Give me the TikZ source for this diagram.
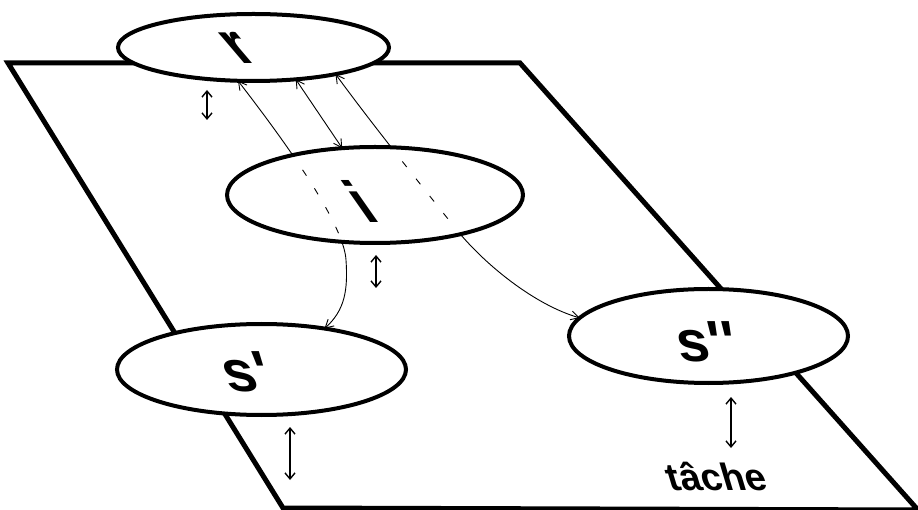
\documentclass[tikz,border=0pt]{standalone}
\usepackage{fontspec}
\setmainfont{Liberation Sans}[Ligatures=TeXOff]
\newfontfamily\slantR{Liberation Sans}[UprightFont=* Bold, FakeSlant=-0.85, Ligatures=TeXOff]
\newfontfamily\slantI{Liberation Sans}[UprightFont=* Bold, FakeSlant=-0.7, Ligatures=TeXOff]
\newfontfamily\slantS{Liberation Sans}[UprightFont=* Bold, FakeSlant=-0.35, Ligatures=TeXOff]
\newfontfamily\slantT{Liberation Sans}[UprightFont=* Bold, FakeSlant=-0.2, Ligatures=TeXOff]
\newfontfamily\slantW{Liberation Sans}[UprightFont=* Bold, FakeSlant=-0.3, Ligatures=TeXOff]
\usetikzlibrary{arrows.meta,shapes.geometric}
\pgfdeclarelayer{bg}\pgfdeclarelayer{mid}\pgfdeclarelayer{fg}
\pgfsetlayers{bg,mid,main,fg}
\tikzset{
  plane/.style={line width=5pt, line join=miter},
  blob/.style={ellipse, draw, fill=white, line width=4pt, inner sep=0pt, outer sep=0pt},
  lab/.style={inner sep=0pt},
  link/.style={line width=0.9pt, {Straight Barb[length=8pt,width=9pt]}-{Straight Barb[length=8pt,width=9pt]}},
  hid/.style={line width=0.9pt, dash pattern=on 7pt off 15pt},
  dbl/.style={line width=1.4pt, {Straight Barb[length=6pt,width=10pt]}-{Straight Barb[length=6pt,width=10pt]}},
}
\begin{document}
\begin{tikzpicture}[x=1pt,y=-1pt]
\useasboundingbox (0,0) rectangle (918,510);
% ellipses
\node[blob, minimum width=271pt, minimum height=67pt] (r) at (253.5,47.5) {};
\node[blob, minimum width=296pt, minimum height=96pt] (i) at (375,195) {};
\node[blob, minimum width=289pt, minimum height=91pt] (s1) at (261.5,369.5) {};
\node[blob, minimum width=279pt, minimum height=94pt] (s2) at (708.5,336) {};
% labels
\node[lab, font=\slantR\fontsize{58}{60}\selectfont] (rl) at (252,48) {r};
\node[lab, font=\slantI\fontsize{58}{60}\selectfont] (il) at (375,201) {i};
\node[lab, font=\slantS\fontsize{58}{60}\selectfont] (s1l) at (253,372) {s'};
\node[lab, font=\slantT\fontsize{58}{60}\selectfont] (s2l) at (710,342) {s''};
\node[lab, font=\slantW\fontsize{38}{40}\selectfont] (t) at (720,476) {tâche};
% plane
\begin{pgfonlayer}{bg}
\coordinate (p1) at (8,63);
\coordinate (p2) at (520,63);
\coordinate (p3) at (918,510);
\coordinate (p4) at (283,508);
\draw[plane] (p1) -- (p2) -- (p3) -- (p4) -- cycle;
\end{pgfonlayer}
% connectors
\begin{pgfonlayer}{mid}
\draw[link] (r.245) .. controls (290,148) and (344,225) .. (346,260) .. controls (348,290) and (345,310) .. (s1.33);
\draw[link] (r.-37) -- (i.125);
\draw[link] (r.-18) .. controls (375,128) and (425,190) .. (456,229) .. controls (485,265) and (535,305) .. (s2.172);
\end{pgfonlayer}
\begin{pgfonlayer}{fg}
\begin{scope}
\clip (i.center) ellipse [x radius=145pt, y radius=45pt];
\draw[hid] (r.245) .. controls (290,148) and (344,225) .. (346,260);
\draw[hid] (r.-18) .. controls (375,128) and (425,190) .. (456,229);
\end{scope}
\end{pgfonlayer}
% small double arrows
\coordinate (d1a) at (207,90);  \coordinate (d1b) at (207,120);
\coordinate (d2a) at (376,255); \coordinate (d2b) at (376,288);
\coordinate (d3a) at (290,427); \coordinate (d3b) at (290,480);
\coordinate (d4a) at (731,397); \coordinate (d4b) at (731,448);
\draw[dbl] (d1a) -- (d1b);
\draw[dbl] (d2a) -- (d2b);
\draw[dbl] (d3a) -- (d3b);
\draw[dbl] (d4a) -- (d4b);
\end{tikzpicture}
\end{document}
